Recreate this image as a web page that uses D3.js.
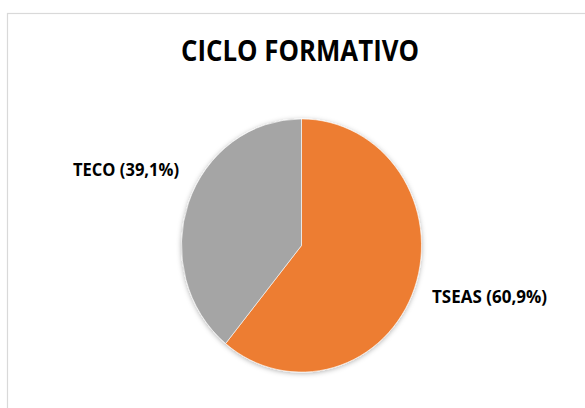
<!DOCTYPE html>
<html>
<head>
<meta charset="utf-8">
<script src="https://cdn.jsdelivr.net/npm/d3@7"></script>
<style>
  body { margin: 0; background: #fff; }
  text { font-family: "Open Sans", sans-serif; font-weight: bold; fill: #000; }
</style>
</head>
<body>
<script>
// data
var categories = ["TSEAS", "TECO"];
var values = [60.9, 39.1];
var labels = ["TSEAS (60,9%)", "TECO (39,1%)"];
var colors = ["#ED7D31", "#A5A5A5"];

var w = 585, h = 408;

var svg = d3.select("body").append("svg")
  .attr("width", w)
  .attr("height", h);

// drop shadow for the pie
var defs = svg.append("defs");
defs.append("filter")
  .attr("id", "shadow")
  .attr("x", "-20%").attr("y", "-20%")
  .attr("width", "140%").attr("height", "140%")
  .append("feDropShadow")
  .attr("dx", 0).attr("dy", 1)
  .attr("stdDeviation", 2.5)
  .attr("flood-color", "#000")
  .attr("flood-opacity", 0.3);

// chart border (cropped on right and bottom)
svg.append("rect")
  .attr("x", 7.5)
  .attr("y", 13.5)
  .attr("width", 600)
  .attr("height", 420)
  .attr("fill", "#fff")
  .attr("stroke", "#d9d9d9")
  .attr("stroke-width", 1.2);

// title
svg.append("text")
  .attr("x", 181)
  .attr("y", 61)
  .attr("textLength", 238)
  .attr("lengthAdjust", "spacingAndGlyphs")
  .style("font-size", "29px")
  .text("CICLO FORMATIVO");

// pie
var radius = 120;
var angles = d3.pie().sort(null)(values);
var arc = d3.arc().innerRadius(0).outerRadius(radius);

var pie = svg.append("g")
  .attr("transform", "translate(301.5, 245.5) scale(1, 1.055)")
  .attr("filter", "url(#shadow)");

pie.selectAll("path")
  .data(angles)
  .enter()
  .append("path")
  .attr("d", arc)
  .attr("fill", function(d, i) { return colors[i]; })
  .attr("stroke", "#fff")
  .attr("stroke-width", 0.6);

// labels
var labelPos = [
  { x: 432, y: 303, len: 115 },
  { x: 73, y: 176, len: 106 }
];

svg.selectAll(".label")
  .data(labels)
  .enter()
  .append("text")
  .attr("class", "label")
  .attr("x", function(d, i) { return labelPos[i].x; })
  .attr("y", function(d, i) { return labelPos[i].y; })
  .attr("textLength", function(d, i) { return labelPos[i].len; })
  .attr("lengthAdjust", "spacingAndGlyphs")
  .style("font-size", "18px")
  .text(function(d) { return d; });
</script>
</body>
</html>
